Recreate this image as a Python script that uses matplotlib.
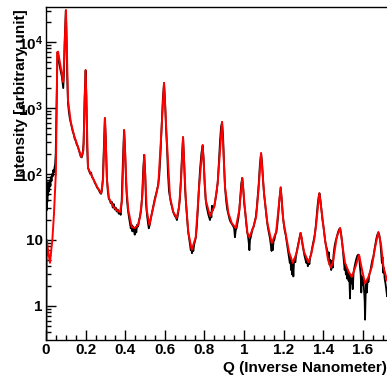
import matplotlib
matplotlib.use("Agg")
import matplotlib.pyplot as plt
from matplotlib.ticker import FixedLocator, FixedFormatter, MultipleLocator, LogLocator, NullFormatter

plt.rcParams["font.family"] = ["Liberation Sans", "DejaVu Sans"]
plt.rcParams["font.weight"] = "bold"
plt.rcParams["mathtext.fontset"] = "custom"
plt.rcParams["mathtext.rm"] = "Liberation Sans:bold"
plt.rcParams["mathtext.it"] = "Liberation Sans:bold"
plt.rcParams["mathtext.bf"] = "Liberation Sans:bold"
plt.rcParams["mathtext.default"] = "rm"

# Measured scattering intensity (black)
data_q = [
    0.001, 0.003, 0.005, 0.007, 0.009, 0.011, 0.013, 0.016, 0.019, 0.022, 0.025, 0.028,
    0.031, 0.034, 0.037, 0.040, 0.043, 0.046, 0.049, 0.052, 0.055, 0.058, 0.061, 0.065,
    0.070, 0.075, 0.080, 0.084, 0.087, 0.090, 0.095, 0.100, 0.103, 0.107, 0.111, 0.115,
    0.120, 0.125, 0.130, 0.135, 0.140, 0.145, 0.150, 0.155, 0.160, 0.165, 0.170, 0.175,
    0.180, 0.185, 0.190, 0.195, 0.200, 0.204, 0.208, 0.212, 0.218, 0.224, 0.228, 0.232,
    0.238, 0.243, 0.248, 0.253, 0.258, 0.263, 0.268, 0.273, 0.278, 0.282, 0.287, 0.292,
    0.297, 0.302, 0.307, 0.312, 0.317, 0.322, 0.327, 0.332, 0.337, 0.342, 0.347, 0.352,
    0.357, 0.362, 0.367, 0.372, 0.377, 0.382, 0.388, 0.394, 0.399, 0.404, 0.409, 0.414,
    0.419, 0.424, 0.428, 0.432, 0.436, 0.440, 0.444, 0.448, 0.452, 0.456, 0.460, 0.465,
    0.470, 0.476, 0.481, 0.486, 0.491, 0.496, 0.501, 0.505, 0.510, 0.515, 0.519, 0.524,
    0.529, 0.534, 0.539, 0.545, 0.550, 0.556, 0.561, 0.566, 0.572, 0.578, 0.584, 0.590,
    0.596, 0.601, 0.606, 0.611, 0.616, 0.621, 0.626, 0.631, 0.636, 0.641, 0.646, 0.651,
    0.656, 0.661, 0.666, 0.671, 0.676, 0.681, 0.687, 0.692, 0.697, 0.702, 0.707, 0.712,
    0.717, 0.722, 0.727, 0.731, 0.734, 0.737, 0.740, 0.744, 0.748, 0.752, 0.757, 0.762,
    0.767, 0.772, 0.778, 0.785, 0.791, 0.796, 0.801, 0.806, 0.811, 0.816, 0.820, 0.824,
    0.828, 0.832, 0.835, 0.838, 0.841, 0.845, 0.850, 0.855, 0.861, 0.867, 0.873, 0.879,
    0.884, 0.889, 0.894, 0.899, 0.904, 0.910, 0.915, 0.920, 0.926, 0.931, 0.936, 0.941,
    0.946, 0.950, 0.954, 0.958, 0.962, 0.967, 0.971, 0.976, 0.981, 0.986, 0.991, 0.996,
    1.001, 1.006, 1.011, 1.016, 1.020, 1.024, 1.027, 1.030, 1.034, 1.039, 1.044, 1.049,
    1.054, 1.059, 1.064, 1.069, 1.074, 1.080, 1.086, 1.091, 1.096, 1.101, 1.106, 1.111,
    1.116, 1.121, 1.126, 1.131, 1.135, 1.139, 1.142, 1.145, 1.149, 1.153, 1.158, 1.163,
    1.168, 1.173, 1.179, 1.185, 1.190, 1.195, 1.200, 1.205, 1.210, 1.215, 1.219, 1.223,
    1.227, 1.231, 1.234, 1.237, 1.240, 1.243, 1.246, 1.249, 1.252, 1.255, 1.259, 1.263,
    1.268, 1.273, 1.279, 1.285, 1.290, 1.295, 1.300, 1.305, 1.310, 1.314, 1.318, 1.322,
    1.326, 1.330, 1.334, 1.338, 1.342, 1.347, 1.352, 1.357, 1.362, 1.367, 1.372, 1.377,
    1.381, 1.386, 1.391, 1.396, 1.401, 1.405, 1.410, 1.415, 1.420, 1.424, 1.428, 1.432,
    1.436, 1.440, 1.444, 1.448, 1.452, 1.457, 1.462, 1.468, 1.474, 1.480, 1.485, 1.490,
    1.495, 1.500, 1.504, 1.508, 1.511, 1.514, 1.517, 1.520, 1.524, 1.528, 1.531, 1.535,
    1.538, 1.541, 1.545, 1.549, 1.553, 1.557, 1.562, 1.567, 1.572, 1.577, 1.581, 1.585,
    1.589, 1.592, 1.595, 1.598, 1.602, 1.606, 1.609, 1.611, 1.614, 1.617, 1.620, 1.624,
    1.628, 1.633, 1.638, 1.643, 1.648, 1.653, 1.658, 1.663, 1.668, 1.673, 1.678, 1.683,
    1.688, 1.692, 1.696, 1.699, 1.702, 1.706, 1.710, 1.714, 1.718, 1.722, 1.726, 1.730,
]
data_i = [
    45, 28, 60, 38, 75, 48, 70, 55, 80, 65, 90, 78,
    100, 92, 115, 105, 125, 140, 200, 700, 3000, 7000, 6500, 5200,
    4200, 3500, 3000, 2400, 2000, 3000, 12000, 30000, 15000, 3000, 1200, 900,
    700, 600, 520, 440, 400, 340, 320, 280, 265, 235, 210, 185,
    178, 200, 300, 1500, 3700, 1500, 250, 125, 110, 100, 105, 90,
    85, 78, 72, 68, 62, 60, 56, 52, 50, 55, 85, 250,
    700, 350, 90, 55, 42, 40, 36, 38, 31, 35, 29, 31,
    27, 29, 25, 27, 24, 38, 150, 460, 250, 80, 40, 28,
    22, 18, 15, 17, 13.5, 16, 14, 12, 15.5, 13, 17, 16,
    20, 24, 30, 50, 120, 195, 100, 35, 24, 18, 15, 17,
    21, 25, 30, 36, 43, 50, 58, 68, 95, 200, 520, 1400,
    2400, 1300, 500, 250, 100, 55, 44, 36, 32, 27, 25, 23,
    22, 20, 24, 31, 42, 80, 200, 360, 170, 60, 36, 22,
    14, 11, 8.5, 7, 7.8, 6.3, 7.5, 6.8, 8.5, 9.5, 11, 17,
    30, 60, 120, 210, 270, 170, 70, 42, 32, 27, 24, 22,
    20, 26, 22, 33, 28, 31, 33, 40, 52, 75, 150, 330,
    520, 610, 380, 140, 62, 38, 29, 25, 21, 19, 18, 17,
    16, 15, 11, 14, 15, 18, 21, 28, 45, 72, 87, 60,
    35, 26, 18, 13, 11.5, 9, 7, 10, 11, 13, 15, 16,
    19, 22, 30, 45, 70, 140, 205, 150, 80, 50, 36, 26,
    19, 15, 12.5, 10.5, 8.5, 6.8, 9, 7, 9.5, 10, 12, 13,
    17, 25, 42, 62, 42, 25, 18, 14, 12, 9.5, 8, 6.5,
    5.5, 4.5, 5.5, 3.5, 4.8, 3.0, 4.2, 2.8, 4.5, 5.2, 4.6, 6,
    7.2, 8.5, 10.5, 12.8, 11, 8.5, 7, 5.8, 5.0, 4.5, 5.2, 4.0,
    4.8, 4.3, 5.5, 6, 7, 8.5, 10, 12, 16, 24, 35, 46,
    51, 40, 28, 20, 16, 12.5, 9.5, 8, 7, 5.5, 6.5, 4.2,
    5.0, 3.5, 4.8, 3.8, 6.0, 8, 9.5, 11, 13, 14.5, 15, 12.5,
    9.5, 6.5, 5.0, 3.5, 4.3, 3.0, 3.8, 2.6, 3.5, 2.4, 3.2, 1.3,
    3.0, 2.2, 2.8, 1.8, 3.2, 3.8, 4.5, 5.2, 5.8, 6.0, 5.8, 4.0,
    3.0, 1.6, 2.8, 2.1, 2.5, 1.7, 1.2, 0.62, 1.5, 2.2, 1.6, 2.6,
    2.3, 3.0, 3.4, 4.2, 5.0, 5.6, 7.0, 8.5, 10.5, 12, 13, 12,
    9.5, 6.5, 4.5, 5.5, 3.2, 3.8, 2.6, 2.2, 1.8, 1.4, 1.9, 1.6,
]

# Model fit (red)
fit_q = [
    0.002, 0.004, 0.010, 0.020, 0.032, 0.040, 0.050, 0.057, 0.061, 0.081, 0.087, 0.101,
    0.111, 0.125, 0.141, 0.158, 0.178, 0.189, 0.200, 0.212, 0.234, 0.259, 0.279, 0.288,
    0.298, 0.308, 0.318, 0.340, 0.359, 0.374, 0.384, 0.395, 0.407, 0.416, 0.433, 0.449,
    0.465, 0.475, 0.487, 0.496, 0.509, 0.522, 0.542, 0.567, 0.584, 0.596, 0.610, 0.626,
    0.643, 0.660, 0.672, 0.682, 0.692, 0.706, 0.719, 0.736, 0.756, 0.773, 0.791, 0.807,
    0.828, 0.850, 0.867, 0.889, 0.904, 0.921, 0.938, 0.958, 0.976, 0.991, 1.005, 1.017,
    1.027, 1.047, 1.061, 1.073, 1.086, 1.101, 1.118, 1.140, 1.162, 1.185, 1.198, 1.216,
    1.227, 1.246, 1.266, 1.286, 1.303, 1.325, 1.338, 1.354, 1.364, 1.380, 1.394, 1.409,
    1.424, 1.438, 1.449, 1.468, 1.485, 1.500, 1.510, 1.528, 1.544, 1.561, 1.581, 1.596,
    1.611, 1.626, 1.645, 1.662, 1.678, 1.692, 1.704, 1.721, 1.732,
]
fit_i = [
    0.25, 10, 7.1, 4.5, 10, 24, 107, 7000, 7130, 3160, 2470, 30500,
    1320, 617, 390, 275, 181, 230, 3770, 123, 90, 63, 51, 81,
    707, 81, 43, 32, 28, 26.5, 40, 464, 57, 28, 15.7, 15.2,
    16.9, 22.3, 48, 195, 28, 16.9, 31.6, 68, 517, 2400, 330, 45,
    26.5, 21.5, 32, 81, 363, 40, 12.8, 7.1, 11, 63, 275, 40,
    23, 32, 73, 617, 63, 25.6, 18, 15.2, 28.5, 87, 28.5, 12.8,
    11, 15.7, 22.3, 57, 208, 51, 18, 9, 13.2, 63, 20, 10,
    6.6, 4.5, 6.4, 12.8, 6.6, 4.6, 5.9, 10, 16.9, 51, 24, 10,
    5, 3.8, 4.6, 11, 15.2, 7.1, 4.5, 3.3, 2.75, 3.8, 5.9, 3.5,
    2.2, 2.65, 3.9, 7.8, 13.2, 8.4, 3.9, 2.5, 2.1,
]

x_range = (0.0, 1.742)
y_range = (0.305, 33900)
x_major = [0.0, 0.2, 0.4, 0.6, 0.8, 1.0, 1.2, 1.4, 1.6]
x_labels = ["0", "0.2", "0.4", "0.6", "0.8", "1", "1.2", "1.4", "1.6"]
y_major = [1, 10, 100, 1000, 10000]
y_labels = ["1", "10", "$10^{2}$", "$10^{3}$", "$10^{4}$"]

fig = plt.figure(figsize=(3.87, 3.79), dpi=100)
ax = fig.add_axes([46 / 387, 39 / 379, 345 / 387, 333 / 379])

ax.plot(data_q, data_i, color="black", lw=1.3, solid_joinstyle="round")
ax.plot(fit_q, fit_i, color="#ff0000", lw=1.4, solid_joinstyle="round")

ax.set_yscale("log")
ax.set_xlim(*x_range)
ax.set_ylim(*y_range)

ax.xaxis.set_major_locator(FixedLocator(x_major))
ax.xaxis.set_major_formatter(FixedFormatter(x_labels))
ax.xaxis.set_minor_locator(MultipleLocator(0.05))
ax.yaxis.set_major_locator(FixedLocator(y_major))
ax.yaxis.set_major_formatter(FixedFormatter(y_labels))
ax.yaxis.set_minor_locator(LogLocator(base=10, subs=[2, 3, 4, 5, 6, 7, 8, 9], numticks=20))
ax.yaxis.set_minor_formatter(NullFormatter())

ax.tick_params(which="both", direction="in", top=False, right=False, width=1.0, color="black")
ax.tick_params(which="major", length=7.2)
ax.tick_params(which="minor", length=3.6)
ax.tick_params(axis="x", which="major", pad=2.5, labelsize=11)
ax.tick_params(axis="y", which="major", pad=2.5, labelsize=11)
for lbl in ax.get_xticklabels() + ax.get_yticklabels():
    lbl.set_fontweight("bold")

for side in ("left", "bottom", "top", "right"):
    ax.spines[side].set_linewidth(1.0)

fig.text(386.5 / 387, 7 / 379, "Q (Inverse Nanometer)", ha="right", va="baseline",
         fontsize=11, fontweight="bold")
fig.text(21 / 387, 1 - 9 / 379, "Intensity [arbitrary unit]", rotation=90,
         ha="center", va="top", fontsize=11, fontweight="bold")

fig.savefig("out.png", dpi=100)
